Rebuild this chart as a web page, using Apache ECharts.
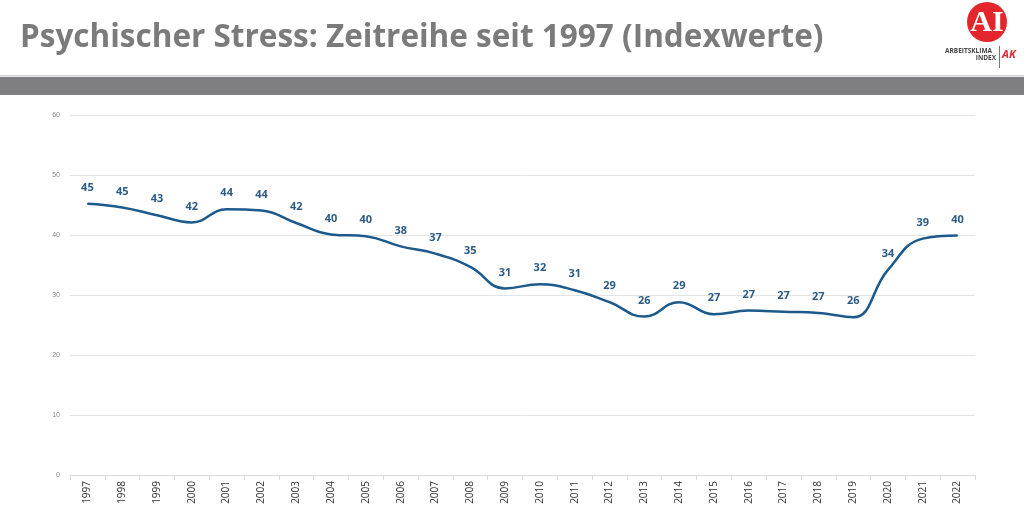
<!DOCTYPE html>
<html><head><meta charset="utf-8">
<script src="https://cdn.jsdelivr.net/npm/echarts@6/dist/echarts.min.js"></script>
<style>html,body{margin:0;padding:0;background:#fff}#c{width:1024px;height:519px}</style>
</head><body><div id="c"></div>
<script>
const years = ['1997','1998','1999','2000','2001','2002','2003','2004','2005','2006','2007','2008','2009','2010','2011','2012','2013','2014','2015','2016','2017','2018','2019','2020','2021','2022'];
const stressValues = [45.2,44.6,43.3,42.1,44.3,44.1,42.0,40.1,39.8,38.1,36.9,34.7,31.1,31.8,30.8,28.8,26.4,28.8,26.8,27.4,27.2,27.0,26.3,34.2,39.4,39.9];
const yTicks = [0,10,20,30,40,50,60];

const chart = echarts.init(document.getElementById('c'));
chart.setOption({
  animation:false,
  backgroundColor:'#fff',
  title:{text:'Psychischer Stress: Zeitreihe seit 1997 (Indexwerte)',left:15,top:17,
    textStyle:{fontFamily:'Open Sans',fontWeight:'bold',fontSize:31.5,color:'#7b7b7b'}},
  grid:{left:70,right:49,top:115,bottom:44},
  xAxis:{type:'category',data:years,boundaryGap:true,
    axisLine:{lineStyle:{color:'#d9d9d9'}},
    axisTick:{show:true,lineStyle:{color:'#d9d9d9'}},
    axisLabel:{rotate:90,fontSize:10,color:'#333',fontFamily:'Open Sans',margin:6}},
  yAxis:{type:'value',min:yTicks[0],max:yTicks[yTicks.length-1],interval:10,
    axisLabel:{fontSize:7,color:'#8a8a8a',margin:10},
    splitLine:{lineStyle:{color:'#e3e3e3',width:1}},
    axisLine:{show:false},axisTick:{show:false}},
  series:[{type:'line',data:stressValues,smooth:0.45,symbol:'circle',symbolSize:1,showSymbol:true,
    itemStyle:{color:'#1c5a8c'},
    lineStyle:{color:'#1c5a8c',width:2.5},
    label:{show:true,position:'top',distance:10,fontSize:11,fontWeight:'bold',color:'#2c5b86',fontFamily:'Open Sans',
      formatter:p=>Math.round(p.value)},
    labelLayout:{hideOverlap:false}
  }],
  graphic:[
    {type:'rect',shape:{x:0,y:75,width:1024,height:1.5},style:{fill:'#cfcfcf'}},
    {type:'rect',shape:{x:0,y:77,width:1024,height:18},style:{fill:'#7f7f83'}},
    {type:'circle',shape:{cx:987,cy:22,r:20},style:{fill:'#e3262b'}},
    {type:'text',style:{x:987,y:23,text:'AI',fill:'#fff',font:'bold 30px "Liberation Serif"',align:'center',verticalAlign:'middle'}},
    {type:'text',style:{x:945,y:51,text:'ARBEITSKLIMA',fill:'#444',font:'bold 6.5px "Open Sans"',align:'left',verticalAlign:'middle'}},
    {type:'text',style:{x:996,y:58,text:'INDEX',fill:'#444',font:'bold 6.5px "Open Sans"',align:'right',verticalAlign:'middle'}},
    {type:'rect',shape:{x:999,y:46,width:0.8,height:22},style:{fill:'#555'}},
    {type:'text',style:{x:1002,y:55,text:'AK',fill:'#e3262b',font:'italic bold 11px "Open Sans"',align:'left',verticalAlign:'middle'}}
  ]
});
</script></body></html>
